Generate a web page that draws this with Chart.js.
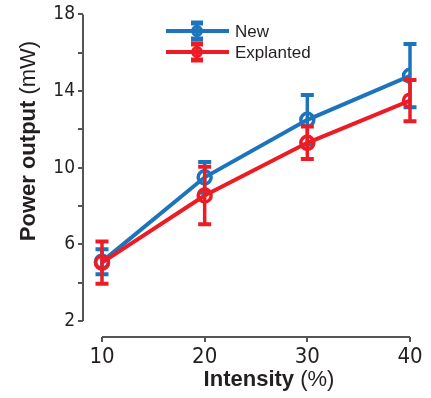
<!DOCTYPE html>
<html>
<head>
<meta charset="utf-8">
<script src="https://cdn.jsdelivr.net/npm/chart.js@4.4.0/dist/chart.umd.min.js"></script>
<style>
html, body { margin: 0; padding: 0; background: #fff; }
#wrap { width: 431px; height: 398px; position: relative; }
</style>
</head>
<body>
<div id="wrap"><canvas id="chart"></canvas></div>
<script>
// data
var intensity = [10, 20, 30, 40];
var newPower = [5.1, 9.5, 12.5, 14.8];
var newErr = [0.65, 0.8, 1.3, 1.65];
var explPower = [5.05, 8.55, 11.3, 13.5];
var explErr = [1.1, 1.5, 0.85, 1.08];
var yTicks = [2, 4, 6, 8, 10, 12, 14, 16, 18];
var yLabeled = [2, 6, 10, 14, 18];
var xTicks = [10, 20, 30, 40];

var blue = "#1c75bc";
var red = "#ed1c24";
var axisColor = "#555";
var textColor = "#231f20";
var narrow = "'Liberation Sans Narrow', 'DejaVu Sans Condensed', sans-serif";
var sans = "'Liberation Sans', Arial, sans-serif";

function points(ys) {
  return intensity.map(function (x, i) { return { x: x, y: ys[i] }; });
}

// error bars, drawn just before each dataset so the later series covers them
var errorBars = {
  id: "errorBars",
  beforeDatasetDraw: function (chart, args) {
    var ds = chart.data.datasets[args.index];
    var meta = chart.getDatasetMeta(args.index);
    var ys = chart.scales.y;
    var ctx = chart.ctx;
    ctx.save();
    ctx.strokeStyle = ds.borderColor;
    meta.data.forEach(function (pt, i) {
      var v = ds.data[i].y;
      var top = ys.getPixelForValue(v + ds.errors[i]);
      var bot = ys.getPixelForValue(v - ds.errors[i]);
      ctx.lineWidth = 3.5;
      ctx.beginPath();
      ctx.moveTo(pt.x, top);
      ctx.lineTo(pt.x, bot);
      ctx.stroke();
      ctx.lineWidth = 4;
      ctx.beginPath();
      ctx.moveTo(pt.x - 6.5, top);
      ctx.lineTo(pt.x + 6.5, top);
      ctx.moveTo(pt.x - 6.5, bot);
      ctx.lineTo(pt.x + 6.5, bot);
      ctx.stroke();
    });
    ctx.restore();
  }
};

// detached axis lines, titles and legend
var decor = {
  id: "decor",
  afterDraw: function (chart) {
    var ctx = chart.ctx;
    var xs = chart.scales.x, ys = chart.scales.y;
    var area = chart.chartArea;
    ctx.save();
    ctx.strokeStyle = axisColor;
    ctx.lineWidth = 2;
    ctx.beginPath();
    ctx.moveTo(area.left, ys.getPixelForValue(yTicks[0]));
    ctx.lineTo(area.left, ys.getPixelForValue(yTicks[yTicks.length - 1]));
    ctx.moveTo(xs.getPixelForValue(xTicks[0]), area.bottom);
    ctx.lineTo(xs.getPixelForValue(xTicks[xTicks.length - 1]), area.bottom);
    ctx.stroke();

    // axis titles: bold word + plain unit
    ctx.fillStyle = textColor;
    ctx.textBaseline = "middle";
    function mixed(bold, plain, cx, cy, rot) {
      ctx.save();
      ctx.translate(cx, cy);
      ctx.rotate(rot);
      ctx.font = "bold 22px " + sans;
      var w1 = ctx.measureText(bold).width;
      ctx.font = "22px " + sans;
      var w2 = ctx.measureText(plain).width;
      var start = -(w1 + w2) / 2;
      ctx.textAlign = "left";
      ctx.font = "bold 22px " + sans;
      ctx.fillText(bold, start, 0);
      ctx.font = "22px " + sans;
      ctx.fillText(plain, start + w1, 0);
      ctx.restore();
    }
    mixed("Intensity", " (%)", 269, 380, 0);
    mixed("Power output", " (mW)", 29, 141, -Math.PI / 2);

    // legend
    chart.data.datasets.forEach(function (ds, i) {
      var y = 31 + i * 21;
      ctx.strokeStyle = ds.borderColor;
      ctx.lineWidth = 4;
      ctx.beginPath();
      ctx.moveTo(166, y);
      ctx.lineTo(229, y);
      ctx.stroke();
      ctx.lineWidth = 3.5;
      ctx.beginPath();
      ctx.moveTo(197, y - 8);
      ctx.lineTo(197, y + 8);
      ctx.stroke();
      ctx.lineWidth = 5;
      ctx.beginPath();
      ctx.moveTo(191, y - 8);
      ctx.lineTo(203, y - 8);
      ctx.moveTo(191, y + 8);
      ctx.lineTo(203, y + 8);
      ctx.stroke();
      ctx.lineWidth = 3;
      ctx.beginPath();
      ctx.arc(197, y, 4.5, 0, Math.PI * 2);
      ctx.stroke();
      ctx.fillStyle = textColor;
      ctx.font = "17px " + sans;
      ctx.textAlign = "left";
      ctx.textBaseline = "middle";
      ctx.fillText(ds.label, 235, y + 1);
    });
    ctx.restore();
  }
};

var config = {
  type: "line",
  data: {
    datasets: [
      {
        label: "New",
        data: points(newPower),
        errors: newErr,
        borderColor: blue,
        backgroundColor: blue,
        borderWidth: 4,
        pointRadius: 6.5,
        pointBorderWidth: 3.5,
        pointBackgroundColor: "rgba(0,0,0,0)",
        pointBorderColor: blue,
        order: 2
      },
      {
        label: "Explanted",
        data: points(explPower),
        errors: explErr,
        borderColor: red,
        backgroundColor: red,
        borderWidth: 4,
        pointRadius: 6.5,
        pointBorderWidth: 3.5,
        pointBackgroundColor: "rgba(0,0,0,0)",
        pointBorderColor: red,
        order: 1
      }
    ]
  },
  options: {
    responsive: true,
    maintainAspectRatio: false,
    animation: false,
    layout: { padding: { top: 13, right: 21, left: 0, bottom: 0 } },
    plugins: { legend: { display: false }, tooltip: { enabled: false } },
    scales: {
      x: {
        type: "linear",
        min: 8.15,
        max: 40,
        afterBuildTicks: function (scale) {
          scale.ticks = xTicks.map(function (v) { return { value: v }; });
        },
        afterFit: function (scale) { scale.height = 61; },
        border: { display: false },
        grid: { drawOnChartArea: false, drawTicks: true, tickLength: 5, color: axisColor, lineWidth: 2 },
        ticks: { color: textColor, padding: 2, maxRotation: 0, font: { family: narrow, size: 22 } }
      },
      y: {
        min: 1.17,
        max: 18,
        afterBuildTicks: function (scale) {
          scale.ticks = yTicks.map(function (v) { return { value: v }; });
        },
        afterFit: function (scale) { scale.width = 83; },
        border: { display: false },
        grid: { drawOnChartArea: false, drawTicks: true, tickLength: 5, color: axisColor, lineWidth: 2 },
        ticks: {
          color: textColor,
          padding: 3,
          font: { family: narrow, size: 19 },
          callback: function (v) { return yLabeled.indexOf(v) >= 0 ? String(v) : ""; }
        }
      }
    }
  },
  plugins: [errorBars, decor]
};

new Chart(document.getElementById("chart"), config);
</script>
</body>
</html>
